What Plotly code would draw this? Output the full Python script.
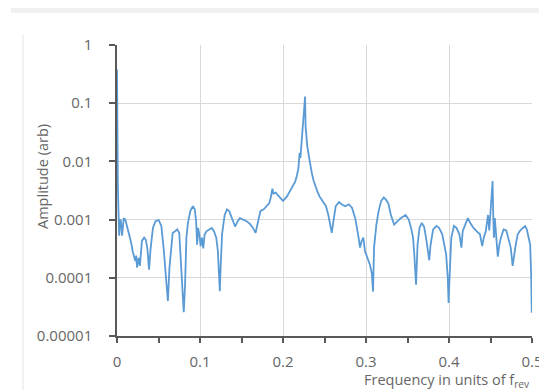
import plotly.graph_objects as go

freq = [0.0000, 0.0004, 0.0010, 0.0018, 0.0026, 0.0035, 0.0045, 0.0061, 0.0081, 0.0100,
        0.0131, 0.0150, 0.0171, 0.0190, 0.0202, 0.0221, 0.0232, 0.0241, 0.0261, 0.0276,
        0.0300, 0.0327, 0.0347, 0.0366, 0.0386, 0.0405, 0.0433, 0.0464, 0.0503, 0.0534,
        0.0562, 0.0589, 0.0613, 0.0632, 0.0652, 0.0671, 0.0699, 0.0726, 0.0750, 0.0769,
        0.0789, 0.0804, 0.0820, 0.0836, 0.0855, 0.0883, 0.0914, 0.0937, 0.0953, 0.0965,
        0.0977, 0.0992, 0.1008, 0.1023, 0.1039, 0.1055, 0.1078, 0.1110, 0.1141, 0.1168,
        0.1196, 0.1215, 0.1227, 0.1239, 0.1250, 0.1266, 0.1297, 0.1325, 0.1352, 0.1383,
        0.1403, 0.1423, 0.1454, 0.1481, 0.1520, 0.1560, 0.1599, 0.1638, 0.1669, 0.1696,
        0.1728, 0.1767, 0.1806, 0.1833, 0.1853, 0.1872, 0.1885, 0.1912, 0.1951, 0.2001,
        0.2048, 0.2107, 0.2147, 0.2166, 0.2185, 0.2200, 0.2210, 0.2220, 0.2244, 0.2258,
        0.2266, 0.2272, 0.2283, 0.2293, 0.2311, 0.2330, 0.2350, 0.2370, 0.2400, 0.2420,
        0.2440, 0.2479, 0.2518, 0.2546, 0.2569, 0.2588, 0.2608, 0.2635, 0.2675, 0.2714,
        0.2752, 0.2792, 0.2831, 0.2870, 0.2910, 0.2928, 0.2948, 0.2968, 0.2987, 0.3019,
        0.3046, 0.3070, 0.3085, 0.3097, 0.3125, 0.3152, 0.3183, 0.3215, 0.3240, 0.3269,
        0.3300, 0.3339, 0.3379, 0.3418, 0.3477, 0.3515, 0.3543, 0.3567, 0.3582, 0.3603,
        0.3621, 0.3645, 0.3672, 0.3700, 0.3723, 0.3750, 0.3762, 0.3778, 0.3809, 0.3848,
        0.3880, 0.3919, 0.3946, 0.3966, 0.3985, 0.3995, 0.4010, 0.4028, 0.4060, 0.4090,
        0.4125, 0.4150, 0.4165, 0.4197, 0.4227, 0.4255, 0.4295, 0.4335, 0.4373, 0.4400,
        0.4420, 0.4443, 0.4470, 0.4485, 0.4502, 0.4517, 0.4525, 0.4533, 0.4541, 0.4552,
        0.4568, 0.4588, 0.4607, 0.4626, 0.4658, 0.4690, 0.4713, 0.4744, 0.4767, 0.4785,
        0.4804, 0.4828, 0.4857, 0.4890, 0.4918, 0.4939, 0.4960, 0.4978, 0.4990, 0.4997]

amplitude = [0.38, 0.02, 0.004, 0.0014, 0.00053, 0.0009, 0.001, 0.00053, 0.00106, 0.001,
             0.00068, 0.00055, 0.0004, 0.00028, 0.00025, 0.000195, 0.00024, 0.00015, 0.00022, 0.00016,
             0.00043, 0.00049, 0.00045, 0.00032, 0.000138, 0.00032, 0.00072, 0.00094, 0.00098, 0.00078,
             0.00032, 0.000113, 0.00004, 0.00015, 0.00037, 0.00059, 0.00063, 0.00068, 0.00059, 0.00022,
             0.000059, 0.0000257, 0.000076, 0.00049, 0.00088, 0.0014, 0.0017, 0.0015, 0.00094, 0.00037,
             0.00072, 0.00055, 0.00035, 0.00049, 0.00032, 0.00055, 0.00063, 0.00068, 0.00072, 0.00063,
             0.00049, 0.00029, 0.00015, 0.000059, 0.00017, 0.00056, 0.0012, 0.0015, 0.0014, 0.0011,
             0.00088, 0.00076, 0.00094, 0.00106, 0.001, 0.00094, 0.00085, 0.00072, 0.00059, 0.00094,
             0.0014, 0.0015, 0.0017, 0.0019, 0.0024, 0.0034, 0.0028, 0.0029, 0.0025, 0.0021,
             0.0025, 0.0036, 0.0045, 0.0056, 0.0075, 0.014, 0.0115, 0.018, 0.045, 0.095,
             0.13, 0.04, 0.026, 0.018, 0.0125, 0.0083, 0.006, 0.0046, 0.0033, 0.0029,
             0.0025, 0.0021, 0.0017, 0.0012, 0.00082, 0.00059, 0.00094, 0.0017, 0.002, 0.0018,
             0.0017, 0.00183, 0.0016, 0.00106, 0.0005, 0.00033, 0.00043, 0.00049, 0.00029, 0.00022,
             0.00017, 0.00012, 0.000058, 0.00033, 0.00082, 0.0014, 0.0021, 0.0024, 0.0022, 0.0019,
             0.0012, 0.00082, 0.00094, 0.00106, 0.0012, 0.001, 0.00072, 0.00049, 0.00025, 0.000076,
             0.00037, 0.00072, 0.00088, 0.00075, 0.00049, 0.00029, 0.0002, 0.00037, 0.00068, 0.00078,
             0.00072, 0.00056, 0.00037, 0.00025, 0.0001, 0.000037, 0.00013, 0.00049, 0.00078, 0.00072,
             0.00056, 0.00033, 0.00063, 0.00082, 0.00106, 0.00088, 0.00072, 0.00063, 0.00056, 0.00035,
             0.0005, 0.00063, 0.0012, 0.00065, 0.0014, 0.004, 0.0046, 0.0012, 0.00049, 0.00106,
             0.00056, 0.00023, 0.00037, 0.00049, 0.00068, 0.00065, 0.00049, 0.00033, 0.00016, 0.00026,
             0.00037, 0.00056, 0.00065, 0.00072, 0.00077, 0.00067, 0.00049, 0.00037, 0.00011, 0.000025]

y_tick_values = [1, 0.1, 0.01, 0.001, 0.0001, 0.00001]
y_tick_labels = ["1", "0.1", "0.01", "0.001", "0.0001", "0.00001"]
x_tick_values = [0, 0.1, 0.2, 0.3, 0.4, 0.5]
x_tick_labels = ["0", "0.1", "0.2", "0.3", "0.4", "0.5"]

axis_color = "#595959"
grid_color = "#d9d9d9"
text_color = "#666666"
font_family = "Open Sans"

fig = go.Figure()
fig.add_trace(go.Scatter(
    x=freq, y=amplitude, mode="lines",
    line=dict(color="#5b9bd5", width=1.8),
    showlegend=False, hoverinfo="skip",
))

fig.update_layout(
    width=547, height=390,
    margin=dict(l=109, r=12, t=37, b=62),
    paper_bgcolor="white", plot_bgcolor="white",
    font=dict(family=font_family, color=text_color, size=15),
    xaxis=dict(
        range=[0, 0.5], tickvals=x_tick_values, ticktext=x_tick_labels,
        showgrid=True, gridcolor=grid_color, gridwidth=1,
        showline=True, linecolor=axis_color, linewidth=1.5,
        ticks="outside", ticklen=5, tickcolor=axis_color, tickwidth=1.5,
        minor=dict(dtick=0.05, tick0=0, ticks="outside", ticklen=5,
                   tickcolor=axis_color, tickwidth=1.5, showgrid=False),
        zeroline=False, ticklabelstandoff=6,
        tickfont=dict(size=15, color=text_color),
    ),
    yaxis=dict(
        type="log", range=[-5, 0], tickvals=y_tick_values, ticktext=y_tick_labels,
        showgrid=True, gridcolor=grid_color, gridwidth=1,
        showline=True, linecolor=axis_color, linewidth=1.5,
        ticks="outside", ticklen=6, tickcolor=axis_color, tickwidth=1.5,
        zeroline=False, ticklabelstandoff=14,
        tickfont=dict(size=15, color=text_color),
    ),
    annotations=[
        dict(text="Amplitude (arb)", textangle=-90, xref="paper", yref="paper",
             x=(32 - 109) / 426, y=(328 - 168) / 291, xanchor="center", yanchor="middle",
             showarrow=False, font=dict(size=14.5, color=text_color, family=font_family)),
        dict(text="Frequency in units of f<sub>rev</sub>", xref="paper", yref="paper",
             x=1.0, y=(328 - 373) / 291, xanchor="right", yanchor="middle",
             showarrow=False, font=dict(size=14.5, color=text_color, family=font_family)),
    ],
    shapes=[
        dict(type="rect", xref="paper", yref="paper",
             x0=-109 / 426, x1=(547 - 109) / 426, y0=(328 - 5) / 291, y1=328 / 291 + 0.01,
             fillcolor="#f0f0f0", line=dict(width=0), layer="below"),
        dict(type="line", xref="paper", yref="paper",
             x0=(12.5 - 109) / 426, x1=(12.5 - 109) / 426,
             y0=(328 - 27) / 291, y1=(328 - 387) / 291,
             line=dict(color="#e3e3e3", width=1)),
    ],
)

fig.write_html("out.html")
